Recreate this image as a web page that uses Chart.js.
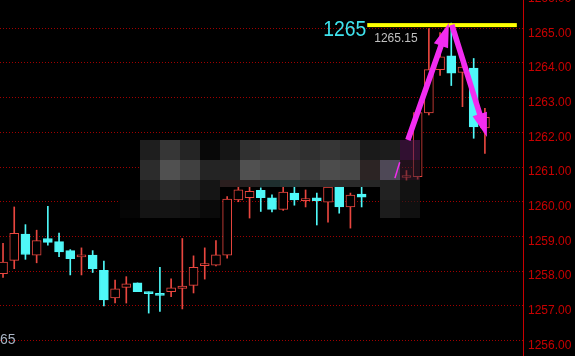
<!DOCTYPE html>
<html>
<head>
<meta charset="utf-8">
<script src="https://cdn.jsdelivr.net/npm/chart.js@4.4.0/dist/chart.umd.min.js"></script>
<style>
html, body { margin: 0; padding: 0; background: #000; }
#wrap { width: 575px; height: 356px; }
</style>
</head>
<body>
<div id="wrap"><canvas id="kline" width="575" height="356"></canvas></div>
<script>
// one candle per slot, left to right
const opens  = [1257.93, 1258.31, 1259.07, 1258.46, 1258.94, 1258.85, 1258.59, 1258.41, 1258.46, 1258.02,
                1257.23, 1257.53, 1257.66, 1257.37, 1257.32, 1257.41, 1257.50, 1257.59, 1258.16, 1258.17,
                1258.46, 1260.05, 1260.12, 1260.33, 1260.11, 1259.78, 1260.25, 1260.03, 1260.11, 1259.99,
                1260.42, 1259.85, 1260.22, 1260.54, 1260.79, 1260.65, 1260.70, 1260.72, 1262.56, 1263.81,
                1264.21, 1263.73, 1263.85, 1262.13];
const highs  = [1258.80, 1259.85, 1259.34, 1259.18, 1259.87, 1259.10, 1258.62, 1258.67, 1258.59, 1258.29,
                1257.74, 1257.84, 1257.66, 1257.40, 1258.11, 1257.78, 1258.94, 1258.44, 1258.67, 1258.88,
                1260.15, 1260.50, 1260.45, 1260.40, 1260.20, 1260.43, 1260.42, 1260.34, 1260.25, 1260.45,
                1260.45, 1260.25, 1260.57, 1260.90, 1261.00, 1260.85, 1260.90, 1262.60, 1264.99, 1264.88,
                1265.15, 1264.10, 1264.13, 1262.69];
const lows   = [1257.82, 1258.07, 1258.34, 1258.24, 1258.75, 1258.42, 1257.89, 1257.89, 1257.96, 1257.00,
                1257.08, 1257.08, 1257.41, 1256.79, 1256.84, 1257.26, 1256.91, 1257.37, 1257.77, 1258.15,
                1258.37, 1260.00, 1259.53, 1259.72, 1259.71, 1259.75, 1259.90, 1259.85, 1259.33, 1259.41,
                1259.67, 1259.24, 1259.85, 1260.45, 1260.54, 1260.60, 1260.62, 1260.65, 1262.50, 1263.64,
                1263.35, 1262.74, 1261.83, 1261.39];
const closes = [1258.26, 1259.09, 1258.48, 1258.88, 1258.83, 1258.55, 1258.36, 1258.43, 1258.07, 1257.17,
                1257.49, 1257.63, 1257.41, 1257.35, 1257.30, 1257.52, 1257.57, 1258.11, 1258.18, 1258.47,
                1260.08, 1260.34, 1260.30, 1260.12, 1259.78, 1260.28, 1260.05, 1260.06, 1260.03, 1260.42,
                1259.85, 1260.19, 1260.13, 1260.80, 1260.65, 1260.74, 1260.72, 1262.57, 1263.81, 1264.18,
                1263.71, 1263.88, 1262.16, 1262.43];

const yTicks = [1256, 1257, 1258, 1259, 1260, 1261, 1262, 1263, 1264, 1265, 1266];
const yMin = 1255.553, yMax = 1265.816;
const peakValue = 1265.15;
const peakLabel = '1265';
const peakText = '1265.15';
const cornerText = '65';

// hand-drawn marks on the screenshot, in candle slot / price units
const arrows = [
  { from: [36.13, 1261.78], to: [39.79, 1265.15] },
  { from: [40.05, 1265.10], to: [43.18, 1261.87] }
];
const peakLineFrom = 32.5, peakLineTo = 45.85;

// blurred patch over the middle, 20px cells from x=120
const MOSAIC_X0 = 120, MOSAIC_CELL = 20;
const MOSAIC_ROWS = [
  { y: 140, h: 20, cells: [null, '#1e1e1e', '#363636', '#242424', '#080808', '#151515', '#303030', '#363636', '#363636', '#303030', '#363636', '#303030', '#1a1a1a', '#1c1c1c', 'rgba(90,30,90,0.55)'] },
  { y: 160, h: 20, cells: [null, '#2c2c2c', '#505050', '#404040', '#242424', '#242424', '#505050', '#484848', '#484848', '#3c3c3c', '#4c4c4c', '#484848', '#2c2424', '#4e4856', 'rgba(60,30,50,0.55)'] },
  { y: 180, h: 20, cells: [null, '#1c1c1c', '#2a2a2a', '#222222', '#151515', null, null, null, null, null, null, null, null, '#222222', 'rgba(30,30,30,0.6)'] },
  { y: 180, h: 7, cells: [null, null, null, null, null, '#2a1e1e', '#262020', '#1e2e2e', '#263434', '#2e2e2e', '#2a2a2a', '#2a2a2a', '#262626', null, null] },
  { y: 200, h: 18, cells: ['#050505', '#141414', '#141414', '#111111', '#0a0a0a', null, null, null, null, null, null, null, null, '#1c1c1c', 'rgba(26,26,26,0.6)'] }
];

const UP = '#e8463f';
const DOWN = '#4ff8f8';
const MAGENTA = '#f22cf0';

const isUp = i => closes[i] >= opens[i];
const bodies = opens.map((o, i) => ({ x: i, y: [o, closes[i]] }));
const wicks = opens.map((o, i) => ({ x: i, y: [lows[i], highs[i]] }));

function drawArrow(ctx, x1, y1, x2, y2) {
  const ang = Math.atan2(y2 - y1, x2 - x1);
  const len = Math.hypot(x2 - x1, y2 - y1);
  const head = 24, hw = 7.5, sw = 2.8;
  ctx.save();
  ctx.translate(x1, y1);
  ctx.rotate(ang);
  ctx.beginPath();
  ctx.moveTo(0, -sw);
  ctx.lineTo(len - head, -sw);
  ctx.lineTo(len - head, -hw);
  ctx.lineTo(len, 0);
  ctx.lineTo(len - head, hw);
  ctx.lineTo(len - head, sw);
  ctx.lineTo(0, sw);
  ctx.closePath();
  ctx.fill();
  ctx.restore();
}

const overlay = {
  id: 'overlay',
  afterDatasetsDraw(chart) {
    const { ctx, scales: { x, y }, chartArea } = chart;
    ctx.save();

    MOSAIC_ROWS.forEach(r => r.cells.forEach((c, k) => {
      if (!c) return;
      ctx.fillStyle = c;
      ctx.fillRect(MOSAIC_X0 + k * MOSAIC_CELL, r.y, MOSAIC_CELL, r.h);
    }));

    // peak line
    const py = y.getPixelForValue(peakValue);
    const lx0 = x.getPixelForValue(peakLineFrom);
    const lx1 = x.getPixelForValue(peakLineTo);
    ctx.fillStyle = '#ffff00';
    ctx.fillRect(lx0, py, lx1 - lx0, 4);

    // arrows
    ctx.fillStyle = MAGENTA;
    arrows.forEach(a => {
      drawArrow(ctx, x.getPixelForValue(a.from[0]), y.getPixelForValue(a.from[1]),
                x.getPixelForValue(a.to[0]), y.getPixelForValue(a.to[1]));
    });
    ctx.strokeStyle = MAGENTA;
    ctx.lineWidth = 1.5;
    ctx.beginPath();
    ctx.moveTo(x.getPixelForValue(35.4), y.getPixelForValue(1261.14));
    ctx.lineTo(x.getPixelForValue(34.97), y.getPixelForValue(1260.68));
    ctx.stroke();

    // labels
    ctx.save();
    ctx.translate(lx0 - 1, py + 13);
    ctx.scale(0.88, 1);
    ctx.font = '22px "Liberation Sans", Arial, sans-serif';
    ctx.fillStyle = '#3fe3ee';
    ctx.textAlign = 'right';
    ctx.textBaseline = 'alphabetic';
    ctx.fillText(peakLabel, 0, 0);
    ctx.restore();

    ctx.font = '12px "Liberation Sans", Arial, sans-serif';
    ctx.fillStyle = '#c0c0c0';
    ctx.textAlign = 'left';
    ctx.textBaseline = 'alphabetic';
    ctx.fillText(peakText, lx0 + 7, py + 18.5);

    ctx.font = '14px "Liberation Sans", Arial, sans-serif';
    ctx.fillStyle = '#a8b4c4';
    ctx.fillText(cornerText, chartArea.left, chartArea.bottom - 12);

    ctx.restore();
  }
};

new Chart(document.getElementById('kline'), {
  type: 'bar',
  data: {
    datasets: [
      {
        data: wicks,
        grouped: false,
        barThickness: 1,
        borderWidth: 0,
        backgroundColor: c => isUp(c.dataIndex) ? UP : DOWN,
        order: 2
      },
      {
        data: bodies,
        grouped: false,
        barThickness: 9,
        minBarLength: 2,
        borderWidth: 1,
        borderSkipped: false,
        backgroundColor: c => isUp(c.dataIndex) ? '#000000' : DOWN,
        borderColor: c => isUp(c.dataIndex) ? UP : DOWN,
        order: 1
      }
    ]
  },
  options: {
    responsive: false,
    animation: false,
    events: [],
    layout: { padding: 0 },
    plugins: { legend: { display: false }, tooltip: { enabled: false } },
    scales: {
      x: { type: 'linear', display: false, min: -0.27, max: 46.4, offset: false, grid: { display: false } },
      y: {
        type: 'linear',
        position: 'right',
        min: yMin,
        max: yMax,
        afterFit: s => { s.width = 52; s.paddingTop = 0; s.paddingBottom = 0; },
        afterBuildTicks: s => { s.ticks = yTicks.map(v => ({ value: v })); },
        border: { display: true, color: '#c80000', width: 1, dash: [1, 2] },
        grid: { color: '#a00000', drawTicks: false, lineWidth: 1 },
        ticks: {
          color: '#c80000',
          padding: 5,
          labelOffset: 5,
          font: { family: '"Liberation Sans", Arial, sans-serif', size: 12 },
          callback: v => v.toFixed(2)
        }
      }
    }
  },
  plugins: [overlay]
});
</script>
</body>
</html>
